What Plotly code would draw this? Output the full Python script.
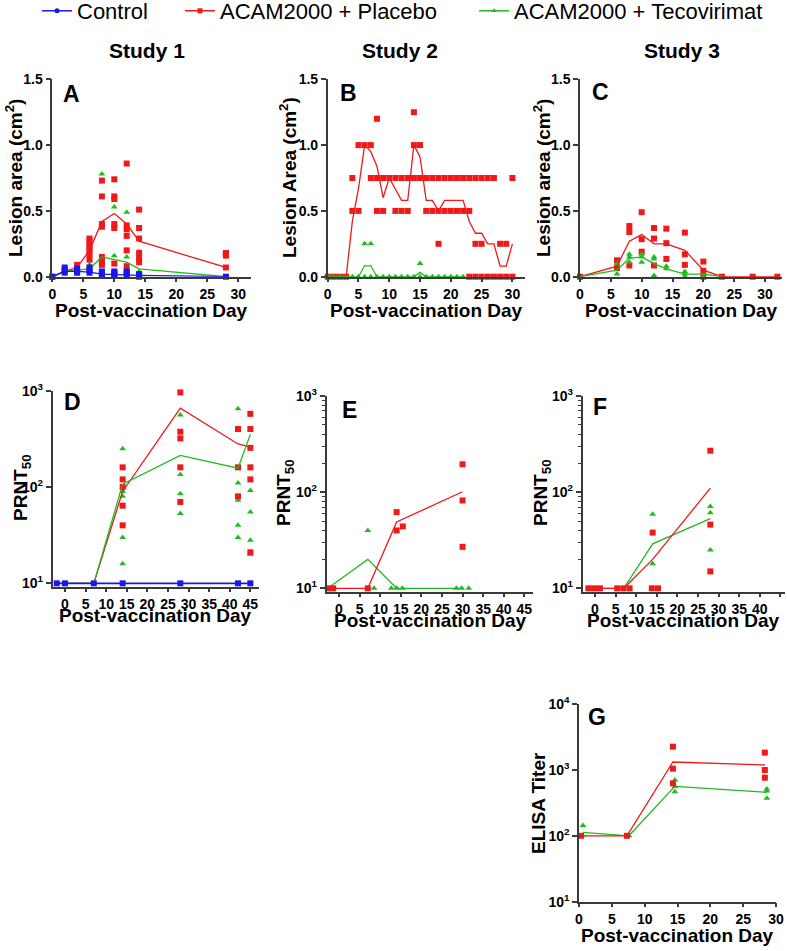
import plotly.graph_objects as go

# ---------------- DATA ----------------
# Panel A (Study 1 lesion area, cm^2)
A_days = [0, 2, 4, 6, 8, 10, 12, 14, 28]
A_ctrl_mean = [0, 0.04, 0.04, 0.035, 0.02, 0.015, 0.015, 0.01, 0]
A_plac_mean = [0, 0.04, 0.07, 0.20, 0.42, 0.48, 0.40, 0.27, 0.07]
A_teco_mean = [0, 0.04, 0.05, 0.06, 0.15, 0.13, 0.11, 0.06, 0]
A_ctrl_pts = {0: [0], 2: [0.07, 0.05, 0.03], 4: [0.06, 0.04, 0.03], 6: [0.07, 0.05, 0.03],
              8: [0.04, 0.03, 0.02, 0.01], 10: [0.04, 0.03, 0.02, 0.01], 12: [0.04, 0.03, 0.01],
              14: [0.02, 0.01, 0.0], 28: [0]}
A_plac_pts = {0: [0], 2: [0.05], 4: [0.09, 0.07], 6: [0.29, 0.27, 0.24, 0.22, 0.20, 0.17, 0.13],
              8: [0.73, 0.61, 0.40, 0.38, 0.15, 0.12, 0.09], 10: [0.74, 0.61, 0.59, 0.40, 0.37, 0.10],
              12: [0.86, 0.39, 0.36, 0.31, 0.20, 0.08], 14: [0.51, 0.37, 0.29, 0.18, 0.14, 0.11],
              28: [0.18, 0.17, 0.16, 0.07]}
A_teco_pts = {2: [0.05], 4: [0.05], 6: [0.09, 0.07], 8: [0.78, 0.12, 0.10, 0.09],
              10: [0.53, 0.16, 0.03], 12: [0.49, 0.15, 0.05], 14: [0.19, 0.15, 0.04], 28: [0]}

# Panel B (Study 2 lesion area)
B_days = list(range(0, 31))
B_plac_mean = [0, 0, 0, 0, 0.42, 0.67, 1.0, 0.95, 0.84, 0.6, 0.75, 0.67, 0.58, 0.58, 1.0, 0.91,
               0.58, 0.58, 0.5, 0.58, 0.58, 0.58, 0.58, 0.42, 0.33, 0.33, 0.25, 0.25, 0.08, 0.08, 0.25]
B_teco_days = list(range(0, 23))
B_teco_mean = [0, 0, 0, 0, 0, 0, 0.083, 0.083, 0, 0, 0, 0, 0, 0, 0, 0.033, 0, 0, 0, 0, 0, 0, 0]
B_plac_pts = {0: [0], 1: [0], 2: [0], 3: [0], 4: [0.75, 0.5], 5: [1.0, 0.5], 6: [1.0],
              7: [1.0, 0.75], 8: [1.2, 0.75, 0.5], 9: [0.75, 0.5], 10: [0.75], 11: [0.75, 0.5],
              12: [0.75, 0.5], 13: [0.75, 0.5], 14: [1.25, 1.0, 0.75], 15: [1.0, 0.75],
              16: [0.75, 0.5], 17: [0.75, 0.5], 18: [0.75, 0.5, 0.25], 19: [0.75, 0.5],
              20: [0.75, 0.5], 21: [0.75, 0.5], 22: [0.75, 0.5], 23: [0.75, 0.5, 0],
              24: [0.75, 0.25, 0], 25: [0.75, 0.25, 0], 26: [0.75, 0], 27: [0.75, 0],
              28: [0.25, 0], 29: [0.25, 0], 30: [0.75, 0]}
B_teco_pts = {d: [0] for d in range(0, 23)}
B_teco_pts.update({6: [0.25, 0], 7: [0.25, 0], 15: [0.1, 0]})

# Panel C (Study 3 lesion area)
C_days = [0, 6, 8, 10, 12, 14, 17, 20, 23, 28, 32]
C_plac_mean = [0, 0.08, 0.27, 0.32, 0.25, 0.25, 0.20, 0.05, 0, 0, 0]
C_teco_days = [0, 6, 8, 10, 12, 14, 17, 20, 23]
C_teco_mean = [0, 0.05, 0.14, 0.15, 0.10, 0.06, 0.02, 0.02, 0]
C_plac_pts = {0: [0], 6: [0.125, 0.065], 8: [0.385, 0.34, 0.085], 10: [0.49, 0.285, 0.19],
              12: [0.37, 0.29, 0.085], 14: [0.365, 0.255, 0.135], 17: [0.335, 0.17, 0.09],
              20: [0.115, 0.045, 0.0], 23: [0], 28: [0], 32: [0]}
C_teco_pts = {6: [0.1, 0.02], 8: [0.17, 0.15, 0.11], 10: [0.17, 0.15, 0.11],
              12: [0.15, 0.135, 0.01], 14: [0.08, 0.06], 17: [0.04, 0.02, 0.0], 20: [0.0]}

# Panel D (Study 1 PRNT50)
D_days = [-2, 0, 7, 14, 28, 42, 45]
D_ctrl_mean = [10, 10, 10, 10, 10, 10, 10]
D_plac_mean = [10, 10, 10, 90, 660, 280, 260]
D_teco_mean = [10, 10, 10, 107, 213, 157, 352]
D_ctrl_pts = {-2: [10], 0: [10], 7: [10], 14: [10], 28: [10], 42: [10], 45: [10]}
D_plac_pts = {14: [160, 120, 100, 64, 40], 28: [960, 375, 320, 160, 70],
              42: [400, 160, 80], 45: [575, 400, 255, 160, 120, 21]}
D_teco_pts = {14: [250, 90, 80, 30, 16], 28: [560, 135, 85, 53],
              42: [650, 110, 73, 40, 30], 45: [92, 55, 28, 20]}

# Panel E (Study 2 PRNT50)
E_plac_days = [-2.7, -1.4, 7, 14, 30]
E_plac_mean = [10, 10, 10, 49, 101]
E_teco_days = [-2.7, 7, 14, 30]
E_teco_mean = [10, 20, 10, 10]
E_plac_x = [-2.7, -1.4, 7, 14, 14, 15.5, 30, 30, 30]
E_plac_y = [10, 10, 10, 62, 40, 44, 195, 82, 27]
E_teco_x = [7, 8.5, 12.7, 14, 15.4, 28.5, 29.8, 31.5]
E_teco_y = [40, 10, 10, 10, 10, 10, 10, 10]

# Panel F (Study 3 PRNT50)
F_plac_days = [-1.6, 7, 14, 28]
F_plac_mean = [10, 10, 20, 110]
F_teco_days = [-1.6, 7, 14, 28]
F_teco_mean = [10, 10, 29, 53]
F_plac_x = [-1.6, -0.2, 1.2, 5.4, 6.9, 8.4, 13.8, 15.3, 14, 28, 28, 28]
F_plac_y = [10, 10, 10, 10, 10, 10, 10, 10, 38, 270, 46, 15]
F_teco_x = [14, 14, 28, 28, 28]
F_teco_y = [59, 18, 71, 61, 25]

# Panel G (Study 3 ELISA titer)
G_plac_days = [0.3, 7.3, 14.3, 28.3]
G_plac_mean = [100, 100, 1318, 1187]
G_teco_days = [0.6, 7.6, 14.6, 28.6]
G_teco_mean = [113, 100, 563, 457]
G_plac_x = [0.3, 7.3, 14.3, 14.3, 14.3, 28.3, 28.3, 28.3]
G_plac_y = [100, 100, 2250, 1045, 625, 1830, 995, 762]
G_teco_x = [0.6, 0.6, 7.6, 14.6, 14.6, 14.6, 28.6, 28.6, 28.6]
G_teco_y = [143, 100, 100, 703, 560, 468, 513, 478, 371]

series_names = ["Control", "ACAM2000 + Placebo", "ACAM2000 + Tecovirimat"]
study_titles = ["Study 1", "Study 2", "Study 3"]
panel_letters = ["A", "B", "C", "D", "E", "F", "G"]

# ---------------- STYLE ----------------
RED = "#f01818"
GREEN = "#20bb20"
BLUE = "#1818e8"
FONT = "Liberation Sans, Arial, sans-serif"
AXC = "#3a3a3a"
W, H = 787, 951


def fx(p):
    return p / W


def fy(p):
    return 1 - p / H


def expand(d):
    xs, ys = [], []
    for k, vals in d.items():
        for v in vals:
            xs.append(k)
            ys.append(v)
    return xs, ys


fig = go.Figure()

axes = {
    1: dict(xd=(52.3, 250.7), yd=(79.3, 276.7), xr=[0, 32], yr=[0, 1.5], log=False, xt=list(range(0, 31, 5))),
    2: dict(xd=(327.7, 524.7), yd=(79.3, 276.7), xr=[0, 32], yr=[0, 1.5], log=False, xt=list(range(0, 31, 5))),
    3: dict(xd=(580.0, 781.7), yd=(79.3, 276.7), xr=[0, 32.7], yr=[0, 1.5], log=False, xt=list(range(0, 31, 5))),
    4: dict(xd=(52.6, 258.6), yd=(390.7, 586.7), xr=[-3, 47], yr=[0.965, 3], log=True, xt=list(range(0, 46, 5)), minor=False),
    5: dict(xd=(326.6, 532.6), yd=(396.0, 591.7), xr=[-3, 47], yr=[0.965, 3], log=True, xt=list(range(0, 46, 5)), minor=True),
    6: dict(xd=(582.6, 784.5), yd=(396.0, 591.7), xr=[-3, 46], yr=[0.965, 3], log=True, xt=list(range(0, 46, 5)), minor=True),
    7: dict(xd=(579.0, 776.0), yd=(704.0, 901.7), xr=[0, 30], yr=[1, 4], log=True, xt=list(range(0, 31, 5)), minor=False),
}

tickfont = dict(family=FONT, size=14, color="black", weight="bold")
layout_axes = {}
for i, a in axes.items():
    xn = "xaxis" if i == 1 else f"xaxis{i}"
    yn = "yaxis" if i == 1 else f"yaxis{i}"
    xa = dict(domain=[fx(a["xd"][0]), min(1, fx(a["xd"][1]))], range=a["xr"], anchor=f"y{'' if i == 1 else i}",
              showline=True, linecolor=AXC, linewidth=1.5, ticks="outside", ticklen=4, tickwidth=1.5,
              tickcolor=AXC, tickvals=a["xt"], ticktext=[str(t) for t in a["xt"]], tickfont=tickfont,
              showgrid=False, zeroline=False, fixedrange=True, automargin=False)
    ya = dict(domain=[fy(a["yd"][1]), fy(a["yd"][0])], range=a["yr"], anchor=f"x{'' if i == 1 else i}",
              showline=True, linecolor=AXC, linewidth=1.5, ticks="outside", ticklen=5, tickwidth=1.5,
              tickcolor=AXC, tickfont=tickfont, showgrid=False, zeroline=False, fixedrange=True,
              automargin=False)
    if a["log"]:
        ya["type"] = "log"
        if i == 7:
            ya["tickvals"] = [10, 100, 1000, 10000]
            ya["ticktext"] = ["10<sup>1</sup>", "10<sup>2</sup>", "10<sup>3</sup>", "10<sup>4</sup>"]
        else:
            ya["tickvals"] = [10, 100, 1000]
            ya["ticktext"] = ["10<sup>1</sup>", "10<sup>2</sup>", "10<sup>3</sup>"]
        if a.get("minor"):
            mv = [m * 10 ** e for e in (1, 2) for m in range(2, 10)]
            ya["minor"] = dict(ticks="outside", ticklen=3, tickwidth=1, tickcolor=AXC, tickvals=mv)
    else:
        ya["tickvals"] = [0, 0.5, 1.0, 1.5]
        ya["ticktext"] = ["0.0", "0.5", "1.0", "1.5"]
    layout_axes[xn] = xa
    layout_axes[yn] = ya


def add_pts(xs, ys, color, symbol, i, size=6):
    fig.add_trace(go.Scatter(x=xs, y=ys, mode="markers", showlegend=False, cliponaxis=False,
                             marker=dict(color=color, symbol=symbol, size=size, line=dict(width=0)),
                             xaxis=f"x{'' if i == 1 else i}", yaxis=f"y{'' if i == 1 else i}"))


def add_line(xs, ys, color, i, width=1.3):
    fig.add_trace(go.Scatter(x=xs, y=ys, mode="lines", showlegend=False, cliponaxis=False,
                             line=dict(color=color, width=width),
                             xaxis=f"x{'' if i == 1 else i}", yaxis=f"y{'' if i == 1 else i}"))


SQ, TRI, CIR = "square", "triangle-up", "square"

# Panel A
add_pts(*expand(A_teco_pts), GREEN, TRI, 1)
add_pts(*expand(A_plac_pts), RED, SQ, 1)
add_line(A_days, A_plac_mean, RED, 1)
add_line(A_days, A_teco_mean, GREEN, 1)
add_pts(*expand(A_ctrl_pts), BLUE, CIR, 1)
add_line(A_days, A_ctrl_mean, BLUE, 1)

# Panel B
add_pts(*expand(B_plac_pts), RED, SQ, 2)
add_pts(*expand(B_teco_pts), GREEN, TRI, 2)
add_line(B_days, B_plac_mean, RED, 2)
add_line(B_teco_days, B_teco_mean, GREEN, 2)

# Panel C
add_pts(*expand(C_plac_pts), RED, SQ, 3)
add_pts(*expand(C_teco_pts), GREEN, TRI, 3)
add_line(C_days, C_plac_mean, RED, 3)
add_line(C_teco_days, C_teco_mean, GREEN, 3)

# Panel D
add_pts(*expand(D_teco_pts), GREEN, TRI, 4)
add_pts(*expand(D_plac_pts), RED, SQ, 4)
add_line(D_days, D_plac_mean, RED, 4)
add_line(D_days, D_teco_mean, GREEN, 4)
add_line(D_days, D_ctrl_mean, BLUE, 4, width=1.6)
add_pts(*expand(D_ctrl_pts), BLUE, CIR, 4)

# Panel E
add_line(E_teco_days, E_teco_mean, GREEN, 5)
add_line(E_plac_days, E_plac_mean, RED, 5)
add_pts(E_teco_x, E_teco_y, GREEN, TRI, 5)
add_pts(E_plac_x, E_plac_y, RED, SQ, 5)

# Panel F
add_line(F_teco_days, F_teco_mean, GREEN, 6)
add_line(F_plac_days, F_plac_mean, RED, 6)
add_pts(F_teco_x, F_teco_y, GREEN, TRI, 6)
add_pts(F_plac_x, F_plac_y, RED, SQ, 6)

# Panel G
add_line(G_teco_days, G_teco_mean, GREEN, 7)
add_line(G_plac_days, G_plac_mean, RED, 7)
add_pts(G_teco_x, G_teco_y, GREEN, TRI, 7)
add_pts(G_plac_x, G_plac_y, RED, SQ, 7)

# legend entries
for name, col, sym, lg in zip(series_names, [BLUE, RED, GREEN], ["circle", "square", "triangle-up"],
                              ["legend", "legend2", "legend3"]):
    fig.add_trace(go.Scatter(x=[None], y=[None], mode="lines+markers", name=name, legend=lg,
                             line=dict(color=col, width=1.5), marker=dict(color=col, symbol=sym, size=5)))

legfont = dict(family=FONT, size=22, color="black")
leg_common = dict(y=1 + 10 / H, yanchor="top", xanchor="left", orientation="h", font=legfont,
                  bgcolor="rgba(0,0,0,0)", borderwidth=0, itemwidth=30)

annotations = []
bold = dict(family=FONT, color="black", weight="bold")
for t, xp in zip(study_titles, [147, 400, 682]):
    annotations.append(dict(text=t, x=fx(xp), y=fy(50), xref="paper", yref="paper", showarrow=False,
                            xanchor="center", yanchor="middle", font=dict(size=21, **bold)))
for t, (xp, yp) in zip(panel_letters, [(71, 94), (348, 93), (600, 92), (72, 402), (349, 410), (600, 407), (597, 717)]):
    annotations.append(dict(text=t, x=fx(xp), y=fy(yp), xref="paper", yref="paper", showarrow=False,
                            xanchor="center", yanchor="middle", font=dict(size=23, **bold)))
for (xp, yp) in [(151, 311), (426, 311), (681, 311), (155, 615), (430, 620), (683, 620), (677, 935)]:
    annotations.append(dict(text="Post-vaccination Day", x=fx(xp), y=fy(yp), xref="paper", yref="paper",
                            showarrow=False, xanchor="center", yanchor="middle", font=dict(size=19, **bold)))
ytitles = [("Lesion area (cm<sup>2</sup>)", 14, 178), ("Lesion Area (cm<sup>2</sup>)", 288, 178),
           ("Lesion area (cm<sup>2</sup>)", 542, 178), ("PRNT<sub>50</sub>", 22, 488),
           ("PRNT<sub>50</sub>", 285, 493), ("PRNT<sub>50</sub>", 542, 493), ("ELISA Titer", 538, 803)]
for t, xp, yp in ytitles:
    annotations.append(dict(text=t, x=fx(xp), y=fy(yp), xref="paper", yref="paper", showarrow=False,
                            xanchor="center", yanchor="middle", textangle=-90, font=dict(size=19, **bold)))

fig.update_layout(
    width=W, height=H, margin=dict(l=0, r=0, t=0, b=0, autoexpand=False),
    paper_bgcolor="white", plot_bgcolor="white",
    font=dict(family=FONT, color="black"),
    legend=dict(x=fx(37), **leg_common),
    legend2=dict(x=fx(180), **leg_common),
    legend3=dict(x=fx(474), **leg_common),
    annotations=annotations,
    **layout_axes,
)

fig.write_html("out.html", config={"displayModeBar": False},
               post_script="document.body.style.margin='0px';document.body.style.overflow='hidden';")
